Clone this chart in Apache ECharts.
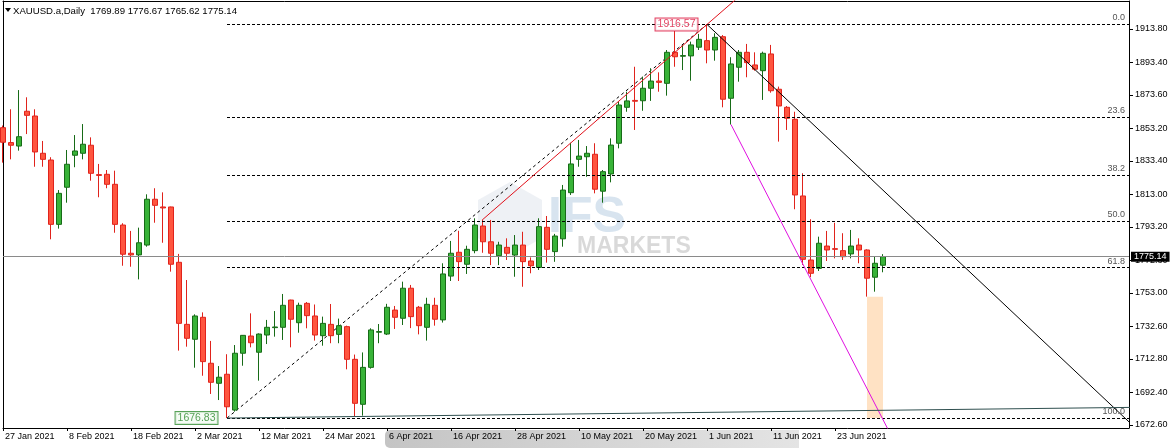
<!DOCTYPE html>
<html><head><meta charset="utf-8">
<script src="https://cdn.jsdelivr.net/npm/echarts@6/dist/echarts.min.js"></script>
<style>html,body{margin:0;padding:0;background:#fff;overflow:hidden}#c{width:1175px;height:448px}</style>
</head><body><div id="c"></div>
<script>
const dates = ['27 Jan 2021','28 Jan 2021','29 Jan 2021','1 Feb 2021','2 Feb 2021','3 Feb 2021','4 Feb 2021','5 Feb 2021','8 Feb 2021','9 Feb 2021',
'10 Feb 2021','11 Feb 2021','12 Feb 2021','15 Feb 2021','16 Feb 2021','17 Feb 2021','18 Feb 2021','19 Feb 2021','22 Feb 2021','23 Feb 2021',
'24 Feb 2021','25 Feb 2021','26 Feb 2021','1 Mar 2021','2 Mar 2021','3 Mar 2021','4 Mar 2021','5 Mar 2021','8 Mar 2021','9 Mar 2021',
'10 Mar 2021','11 Mar 2021','12 Mar 2021','15 Mar 2021','16 Mar 2021','17 Mar 2021','18 Mar 2021','19 Mar 2021','22 Mar 2021','23 Mar 2021',
'24 Mar 2021','25 Mar 2021','26 Mar 2021','29 Mar 2021','30 Mar 2021','31 Mar 2021','1 Apr 2021','5 Apr 2021','6 Apr 2021','7 Apr 2021',
'8 Apr 2021','9 Apr 2021','12 Apr 2021','13 Apr 2021','14 Apr 2021','15 Apr 2021','16 Apr 2021','19 Apr 2021','20 Apr 2021','21 Apr 2021',
'22 Apr 2021','23 Apr 2021','26 Apr 2021','27 Apr 2021','28 Apr 2021','29 Apr 2021','30 Apr 2021','3 May 2021','4 May 2021','5 May 2021',
'6 May 2021','7 May 2021','10 May 2021','11 May 2021','12 May 2021','13 May 2021','14 May 2021','17 May 2021','18 May 2021','19 May 2021',
'20 May 2021','21 May 2021','24 May 2021','25 May 2021','26 May 2021','27 May 2021','28 May 2021','31 May 2021','1 Jun 2021','2 Jun 2021',
'3 Jun 2021','4 Jun 2021','7 Jun 2021','8 Jun 2021','9 Jun 2021','10 Jun 2021','11 Jun 2021','14 Jun 2021','15 Jun 2021','16 Jun 2021',
'17 Jun 2021','18 Jun 2021','21 Jun 2021','22 Jun 2021','23 Jun 2021','24 Jun 2021','25 Jun 2021','28 Jun 2021','29 Jun 2021','30 Jun 2021',
'1 Jul 2021'];

const open = [1853.7,1844.6,1842.5,1863.7,1860.8,1838.1,1834.0,1794.8,1817.4,1836.9,
1838.1,1843.0,1825.1,1825.3,1819.2,1794.4,1777.2,1776.2,1782.2,1810.1,
1805.4,1805.4,1771.7,1733.9,1724.8,1738.2,1710.2,1698.0,1703.5,1681.7,
1716.3,1726.8,1716.9,1727.4,1731.9,1732.1,1748.7,1734.9,1746.7,1739.0,
1727.0,1733.9,1727.8,1732.5,1712.6,1685.2,1707.7,1729.1,1728.0,1742.6,
1737.6,1755.9,1744.3,1732.1,1745.5,1736.6,1763.3,1777.8,1770.5,1778.8,
1793.8,1784.2,1775.7,1780.8,1776.1,1782.2,1772.5,1768.6,1793.0,1778.2,
1786.0,1814.1,1834.4,1836.0,1837.5,1815.0,1825.5,1844.2,1866.1,1870.3,
1870.1,1877.7,1882.1,1880.7,1899.6,1897.2,1897.4,1902.7,1906.7,1901.0,
1909.1,1871.6,1890.5,1899.6,1891.9,1888.4,1898.6,1877.1,1866.1,1858.8,
1812.1,1773.1,1768.0,1781.6,1780.0,1778.8,1776.8,1782.2,1779.2,1762.6,
1769.89];
const high = [1855.0,1864.9,1876.6,1872.2,1864.9,1845.6,1835.7,1815.7,1840.1,1849.2,
1855.9,1847.8,1831.6,1827.9,1827.5,1795.5,1790.8,1792.8,1813.1,1816.8,
1814.3,1805.6,1776.8,1760.9,1740.0,1741.2,1723.8,1708.5,1715.7,1721.3,
1727.4,1740.6,1728.4,1736.6,1742.0,1752.4,1748.9,1747.1,1747.5,1746.0,
1738.6,1746.3,1737.4,1733.1,1715.5,1716.8,1731.5,1734.1,1746.4,1745.1,
1759.9,1757.9,1745.1,1750.1,1750.1,1771.1,1784.7,1790.9,1781.8,1798.5,
1797.9,1797.5,1784.2,1786.3,1788.3,1790.3,1774.7,1798.5,1799.9,1789.0,
1818.8,1844.5,1846.2,1842.5,1844.2,1827.9,1847.2,1869.5,1875.6,1890.8,
1884.8,1889.9,1887.4,1901.0,1912.6,1904.1,1906.1,1910.8,1916.57,1911.2,
1910.1,1896.6,1901.0,1904.7,1899.6,1900.0,1904.1,1878.7,1866.9,1863.4,
1825.9,1797.9,1787.3,1790.8,1795.8,1789.4,1791.4,1786.3,1779.6,1775.1,
1776.67];
const low = [1832.4,1834.4,1839.7,1849.8,1829.9,1829.9,1785.7,1792.2,1808.0,1829.6,
1834.4,1821.4,1811.3,1816.8,1789.7,1769.6,1769.0,1761.3,1781.2,1795.8,
1783.6,1766.0,1717.9,1720.3,1707.5,1702.6,1691.5,1687.8,1676.83,1680.7,
1708.7,1719.9,1699.6,1721.9,1726.4,1724.4,1719.9,1728.8,1731.5,1724.0,
1720.9,1722.4,1722.4,1706.5,1678.0,1678.3,1706.9,1722.4,1727.4,1731.1,
1733.5,1731.6,1727.8,1724.0,1733.1,1735.0,1760.3,1760.3,1764.6,1777.2,
1777.5,1770.0,1770.0,1773.1,1762.9,1756.8,1765.0,1767.0,1771.5,1772.0,
1781.2,1812.7,1829.9,1823.8,1813.7,1808.0,1820.4,1841.1,1863.4,1852.3,
1864.0,1870.0,1875.6,1873.2,1890.8,1888.8,1882.3,1901.0,1892.9,1894.5,
1866.1,1855.6,1881.7,1884.4,1888.4,1870.6,1875.0,1845.2,1852.3,1804.0,
1770.1,1762.6,1766.4,1772.5,1774.1,1773.1,1774.1,1771.1,1750.78,1753.8,
1765.62];
const close = [1844.8,1843.0,1848.2,1861.2,1838.9,1834.4,1794.8,1813.7,1831.4,1839.5,
1843.6,1825.9,1824.6,1819.2,1794.8,1776.6,1776.2,1783.6,1810.1,1806.4,
1804.8,1770.5,1734.5,1725.4,1739.0,1711.2,1698.6,1701.7,1683.7,1716.3,
1727.2,1722.7,1728.0,1732.1,1732.3,1745.5,1737.0,1745.5,1739.2,1727.4,
1734.5,1727.0,1733.1,1712.6,1685.8,1707.7,1730.5,1729.5,1744.3,1738.2,
1755.9,1738.6,1733.1,1746.1,1737.0,1764.6,1777.2,1772.1,1779.6,1794.4,
1784.2,1777.2,1782.2,1777.2,1782.2,1772.1,1769.6,1793.4,1779.6,1787.7,
1815.7,1831.6,1836.4,1838.1,1816.2,1826.9,1843.1,1867.5,1870.0,1869.8,
1877.7,1882.1,1881.3,1899.6,1896.9,1897.6,1904.1,1907.5,1901.0,1908.7,
1871.0,1892.5,1899.6,1893.3,1889.3,1899.0,1876.2,1866.9,1859.4,1812.7,
1773.5,1765.0,1783.3,1779.2,1779.6,1775.1,1781.6,1779.2,1762.0,1771.1,
1775.14];

const xTickIndex = [0,8,16,24,32,40,48,56,64,72,80,88,96,104];
const yTicks = [1913.80,1893.40,1873.60,1853.20,1833.40,1813.00,1793.20,1772.80,1753.00,1732.60,1712.80,1692.40,1672.60];

// drawing objects (bar index, price)
const fibAnchors = [[28, 1676.83], [88, 1916.57]];
const fibLevels = [0, 23.6, 38.2, 50, 61.8, 100];
const redTrend = [[60, 1797.9], [88, 1916.57]];
const blackTrend = [[88, 1916.57], [100, 1861.5]];
const magentaTrend = [[91, 1855.6], [101, 1761.0]];
const greenTrend = [[28, 1676.83], [44, 1677.75]];
const zoneRect = [[108, 1750.78], [110, 1676.83]];
const priceLabels = [[28, 1676.83], [88, 1916.57]];

const X_MAX = 140.75, Y_MIN = 1670.77, Y_MAX = 1930.85;
const FONT = '"Liberation Sans", Arial, sans-serif';

const candles = dates.map((d, i) => [i, open[i], close[i], low[i], high[i]]);
const lastClose = close[close.length - 1];
function ray(seg, toX) {
  const a = seg[0], b = seg[1];
  const s = (b[1] - a[1]) / (b[0] - a[0]);
  return [a, [toX, a[1] + s * (toX - a[0])]];
}
const fibRange = fibAnchors[1][1] - fibAnchors[0][1];
const fibMark = fibLevels.map(l => {
  const p = fibAnchors[1][1] - fibRange * l / 100;
  return [{ name: l.toFixed(1), coord: [fibAnchors[0][0], p] }, { coord: [X_MAX, p] }];
});

function trend(seg, color, toX) {
  return {
    type: 'line', data: ray(seg, toX), symbol: 'none', silent: true, clip: true, z: 5,
    lineStyle: { color: color, width: 1 }, animation: false
  };
}

const chart = echarts.init(document.getElementById('c'));
chart.setOption({
  animation: false,
  backgroundColor: '#fff',
  textStyle: { fontFamily: FONT },
  grid: { left: 3, right: 46, top: 1, bottom: 20, show: false },
  xAxis: [{
    type: 'value', min: 0, max: X_MAX, position: 'bottom',
    axisLine: { show: true, onZero: false, lineStyle: { color: '#000', width: 1 } },
    splitLine: { show: false },
    axisTick: { show: true, customValues: xTickIndex, length: 3, lineStyle: { color: '#000' } },
    axisLabel: { customValues: xTickIndex, formatter: v => dates[v] || '', align: 'left', padding: [0, 0, 0, 2],
      margin: 4, fontSize: 9, color: '#000', fontFamily: FONT }
  }, {
    type: 'value', min: 0, max: X_MAX, position: 'top',
    axisLine: { show: true, onZero: false, lineStyle: { color: '#000', width: 1 } },
    splitLine: { show: false }, axisTick: { show: false }, axisLabel: { show: false }
  }],
  yAxis: [{
    type: 'value', position: 'right', min: Y_MIN, max: Y_MAX,
    axisLine: { show: true, onZero: false, lineStyle: { color: '#000', width: 1 } },
    splitLine: { show: false },
    axisTick: { show: true, customValues: yTicks, length: 4, lineStyle: { color: '#000' } },
    axisLabel: { customValues: yTicks, formatter: v => v.toFixed(2), margin: 6, fontSize: 9, color: '#000', fontFamily: FONT }
  }, {
    type: 'value', position: 'left', min: Y_MIN, max: Y_MAX,
    axisLine: { show: true, onZero: false, lineStyle: { color: '#000', width: 1 } },
    splitLine: { show: false }, axisTick: { show: false }, axisLabel: { show: false }
  }],
  graphic: [
    { type: 'polygon', z: 10, shape: { points: [[5, 8], [11, 8], [8, 12]] }, style: { fill: '#000' } },
    { type: 'text', z: 10, style: { x: 13, y: 11, text: 'XAUUSD.a,Daily  1769.89 1776.67 1765.62 1775.14',
      font: '9.6px ' + FONT, fill: '#000', textVerticalAlign: 'middle' } },
    { type: 'rect', z: -1, shape: { x: 385, y: 430, width: 414, height: 18, r: [5, 0, 0, 5] },
      style: { fill: new echarts.graphic.LinearGradient(0, 0, 1, 0, [
        { offset: 0, color: '#c4c4c4' }, { offset: 0.5, color: '#d4d4d4' }, { offset: 1, color: '#e4e4e4' }]) } },
    { type: 'polygon', z: -1, shape: { points: [[478, 200], [510, 182], [542, 200], [542, 238], [510, 256], [478, 238]] },
      style: { fill: 'rgba(200,210,222,0.3)' } },
    { type: 'text', z: -1, style: { x: 548, y: 218, text: 'IFS', font: 'bold 50px ' + FONT, fill: 'rgba(190,210,228,0.6)', textVerticalAlign: 'middle' } },
    { type: 'text', z: -1, style: { x: 577, y: 247, text: 'MARKETS', font: 'bold 23px ' + FONT, fill: 'rgba(180,180,180,0.5)', textVerticalAlign: 'middle' } }
  ],
  series: [
    {
      type: 'line', name: 'fib', data: fibAnchors, symbol: 'none', silent: true, z: 1,
      lineStyle: { color: '#000', width: 1, type: [3, 3] },
      markLine: {
        silent: true, symbol: ['none', 'none'], animation: false,
        lineStyle: { color: '#000', width: 1, type: [3, 2] },
        label: { show: true, position: 'insideEndTop', formatter: '{b}', distance: [4, 2], color: '#555', fontSize: 9, fontFamily: FONT },
        data: fibMark
      },
      markArea: {
        silent: true, animation: false,
        itemStyle: { color: '#FFE2C4' },
        data: [[{ coord: zoneRect[0] }, { coord: zoneRect[1] }]]
      }
    },
    {
      type: 'candlestick', name: 'XAUUSD', data: candles, barWidth: 5, z: 3, silent: true,
      itemStyle: { color: '#38B338', color0: '#FF553F', borderColor: '#176B17', borderColor0: '#E0231C', borderWidth: 1 },
      markLine: {
        silent: true, symbol: ['none', 'none'], animation: false,
        lineStyle: { color: '#8a8a8a', width: 1, type: 'solid' },
        label: { show: true, position: 'end', distance: 2, formatter: lastClose.toFixed(2), color: '#fff',
          backgroundColor: '#000', padding: [1, 3, 0, 3], fontSize: 9, fontFamily: FONT },
        data: [{ yAxis: lastClose }]
      }
    },
    trend(redTrend, '#E0101A', 150),
    trend(blackTrend, '#000', 150),
    trend(magentaTrend, '#E010E0', 150),
    trend(greenTrend, '#2F4F4F', 150),
    {
      type: 'scatter', symbolSize: 1, silent: true, z: 6,
      itemStyle: { color: 'rgba(0,0,0,0)' },
      label: { show: true, position: 'left', distance: 9, formatter: p => p.value[1].toFixed(2), fontSize: 10.5, fontFamily: FONT, padding: [1, 2, 0, 2] },
      data: [
        { value: priceLabels[0], label: { color: '#2E8B2E', borderColor: '#2E8B2E', borderWidth: 1, backgroundColor: '#F2FBF2' } },
        { value: priceLabels[1], label: { color: '#DC143C', borderColor: '#DC143C', borderWidth: 1, backgroundColor: '#fff' } }
      ]
    }
  ]
});
</script>
</body></html>
